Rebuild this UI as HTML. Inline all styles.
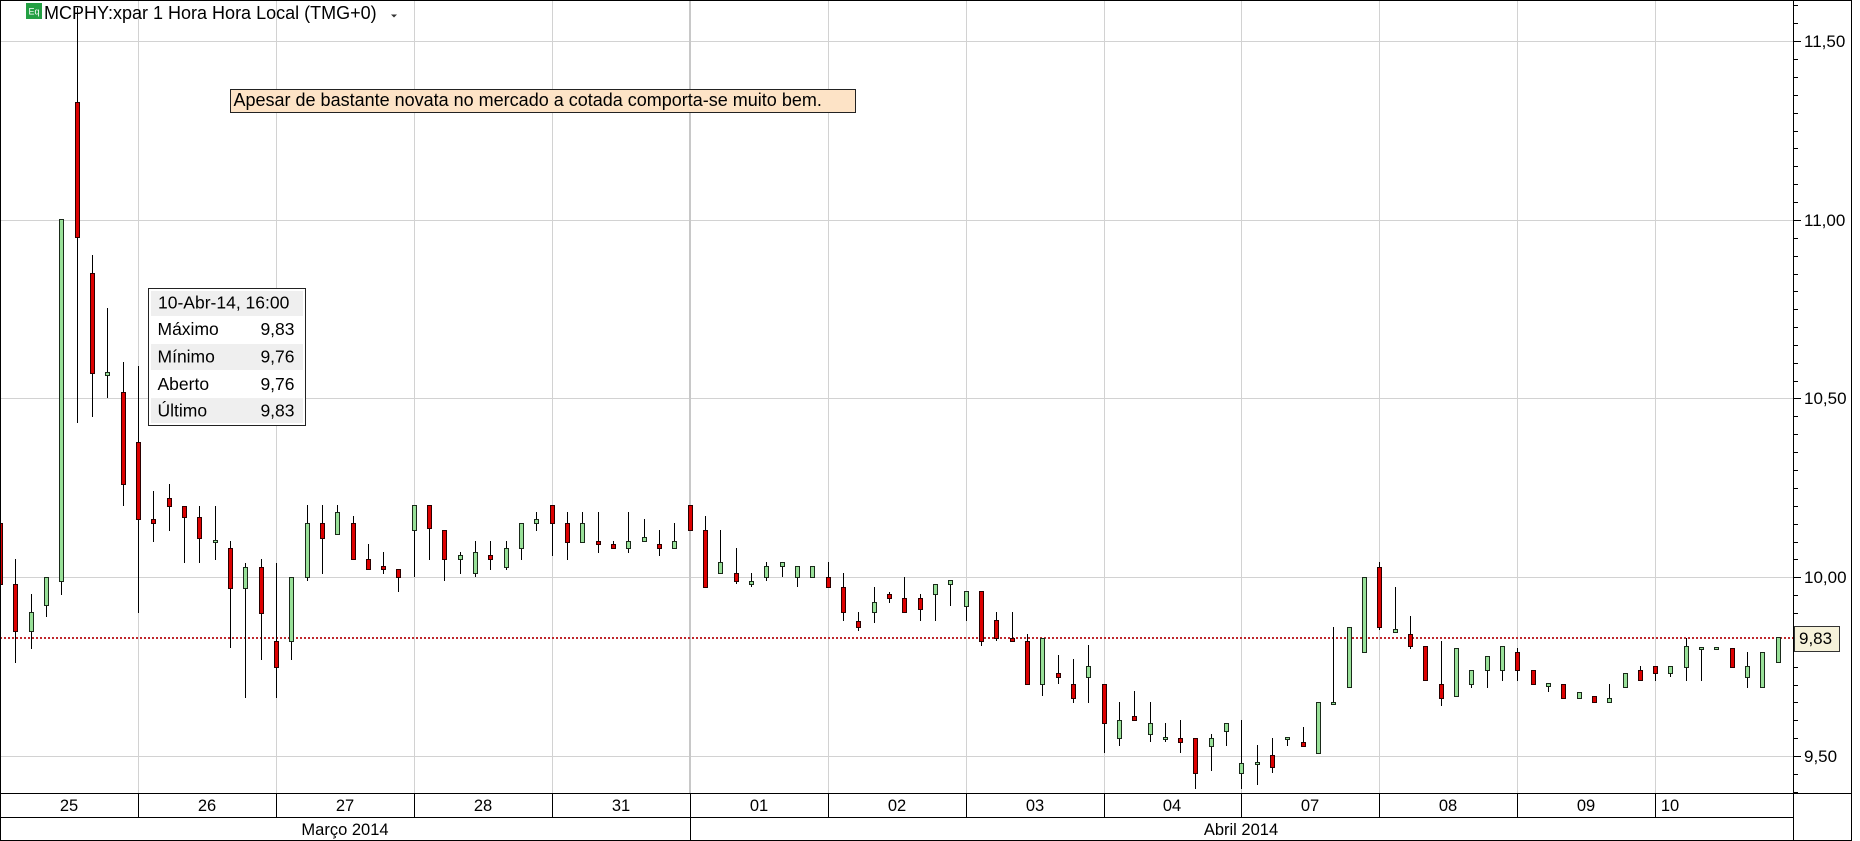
<!DOCTYPE html>
<html><head><meta charset="utf-8"><style>
html,body{margin:0;padding:0;background:#fff;}
svg{display:block;}
text{font-family:"Liberation Sans",Arial,sans-serif;fill:#000;}
</style></head><body>
<svg width="1860" height="841" viewBox="0 0 1860 841" xmlns="http://www.w3.org/2000/svg">
<rect x="0" y="0" width="1860" height="841" fill="#fff"/>
<g stroke="#d2d2d2" stroke-width="1" fill="none">
<path d="M0 41.5H1793M0 220.5H1793M0 398.5H1793M0 577.5H1793M0 756.5H1793"/>
<path d="M138.5 0V793M276.5 0V793M414.5 0V793M552.5 0V793M828.5 0V793M966.5 0V793M1104.5 0V793M1241.5 0V793M1379.5 0V793M1517.5 0V793M1655.5 0V793"/>
</g>
<path d="M690 0V793" stroke="#c8c8c8" stroke-width="2"/>
<path d="M0 638H1793" stroke="#c0282d" stroke-width="2" stroke-dasharray="2,2"/>
<path stroke="#000" stroke-width="1" fill="none" d="M0.5 505V590M15.5 559V663M31.5 594V649M46.5 577V617M61.5 219V595M77.5 8V423M92.5 255V417M107.5 308V398M123.5 362V506M138.5 366V613M153.5 491V542M169.5 484V531M184.5 506V563M199.5 506V563M215.5 506V560M230.5 541V648M245.5 563V698M261.5 559V660M276.5 563V698M291.5 577V660M307.5 505V581M322.5 505V574M337.5 505V534M353.5 516V559M368.5 544V569M383.5 552V574M398.5 569V592M414.5 505V577M429.5 505V560M444.5 530V581M460.5 552V574M475.5 541V577M490.5 541V570M506.5 541V570M521.5 523V560M536.5 512V531M552.5 505V556M567.5 512V560M582.5 512V542M598.5 512V553M613.5 541V548M628.5 512V553M644.5 519V541M659.5 530V556M674.5 523V548M690.5 505V530M705.5 516V587M720.5 530V573M736.5 548V584M751.5 573V587M766.5 562V581M782.5 562V577M797.5 566V587M812.5 566V577M828.5 562V587M843.5 573V621M858.5 612V631M874.5 587V623M889.5 592V603M904.5 577V612M920.5 594V621M935.5 584V621M950.5 580V606M966.5 591V621M981.5 591V646M996.5 612V641M1012.5 612V641M1027.5 634V684M1042.5 638V696M1058.5 655V684M1073.5 659V703M1088.5 645V703M1104.5 684V753M1119.5 702V746M1134.5 691V720M1150.5 702V742M1165.5 723V742M1180.5 720V753M1195.5 738V789M1211.5 734V771M1226.5 723V746M1241.5 720V789M1257.5 745V785M1272.5 738V773M1287.5 737V746M1303.5 727V746M1318.5 702V753M1333.5 627V704M1349.5 627V687M1364.5 577V652M1379.5 562V630M1395.5 587V632M1410.5 616V649M1425.5 646V680M1441.5 641V706M1456.5 648V696M1471.5 670V688M1487.5 656V688M1502.5 646V681M1517.5 648V681M1533.5 670V684M1548.5 683V692M1563.5 684V698M1579.5 692V698M1594.5 696V702M1609.5 684V702M1625.5 673V687M1640.5 666V680M1655.5 666V681M1670.5 666V677M1686.5 638V681M1701.5 647V681M1716.5 647V649M1732.5 648V667M1747.5 652V688M1762.5 652V687M1778.5 637V662"/>
<path fill="#dd0000" stroke="#2a0000" stroke-width="1" d="M-1.5 523.5h4v61h-4zM13.5 584.5h4v47h-4zM75.5 102.5h4v135h-4zM90.5 273.5h4v100h-4zM121.5 392.5h4v92h-4zM136.5 442.5h4v77h-4zM151.5 519.5h4v4h-4zM167.5 498.5h4v8h-4zM182.5 506.5h4v11h-4zM197.5 517.5h4v21h-4zM228.5 548.5h4v40h-4zM259.5 567.5h4v46h-4zM274.5 641.5h4v26h-4zM320.5 523.5h4v15h-4zM351.5 523.5h4v36h-4zM366.5 559.5h4v10h-4zM381.5 566.5h4v3h-4zM396.5 569.5h4v8h-4zM427.5 505.5h4v23h-4zM442.5 530.5h4v29h-4zM488.5 555.5h4v4h-4zM550.5 505.5h4v18h-4zM565.5 523.5h4v19h-4zM596.5 541.5h4v3h-4zM611.5 544.5h4v4h-4zM657.5 544.5h4v4h-4zM688.5 505.5h4v25h-4zM703.5 530.5h4v57h-4zM734.5 573.5h4v8h-4zM826.5 577.5h4v10h-4zM841.5 587.5h4v25h-4zM856.5 621.5h4v6h-4zM887.5 594.5h4v4h-4zM902.5 598.5h4v14h-4zM918.5 598.5h4v11h-4zM979.5 591.5h4v50h-4zM994.5 620.5h4v18h-4zM1010.5 638.5h4v3h-4zM1025.5 641.5h4v43h-4zM1056.5 673.5h4v4h-4zM1071.5 684.5h4v14h-4zM1102.5 684.5h4v39h-4zM1132.5 716.5h4v4h-4zM1178.5 738.5h4v4h-4zM1193.5 738.5h4v35h-4zM1270.5 755.5h4v12h-4zM1301.5 742.5h4v4h-4zM1377.5 567.5h4v60h-4zM1408.5 634.5h4v12h-4zM1423.5 646.5h4v34h-4zM1439.5 684.5h4v14h-4zM1515.5 652.5h4v18h-4zM1531.5 670.5h4v14h-4zM1561.5 684.5h4v14h-4zM1592.5 696.5h4v6h-4zM1638.5 670.5h4v10h-4zM1653.5 666.5h4v7h-4zM1730.5 648.5h4v19h-4z"/>
<path fill="#98e098" stroke="#1a2a1a" stroke-width="1" d="M29.5 612.5h4v19h-4zM44.5 577.5h4v28h-4zM59.5 219.5h4v362h-4zM105.5 372.5h4v3h-4zM213.5 540.5h4v2h-4zM243.5 567.5h4v21h-4zM289.5 577.5h4v64h-4zM305.5 523.5h4v54h-4zM335.5 512.5h4v22h-4zM412.5 505.5h4v25h-4zM458.5 555.5h4v4h-4zM473.5 552.5h4v21h-4zM504.5 548.5h4v19h-4zM519.5 523.5h4v25h-4zM534.5 519.5h4v4h-4zM580.5 523.5h4v19h-4zM626.5 541.5h4v7h-4zM642.5 537.5h4v4h-4zM672.5 541.5h4v7h-4zM718.5 562.5h4v11h-4zM749.5 581.5h4v3h-4zM764.5 566.5h4v11h-4zM780.5 562.5h4v4h-4zM795.5 566.5h4v11h-4zM810.5 566.5h4v11h-4zM872.5 602.5h4v10h-4zM933.5 584.5h4v10h-4zM948.5 580.5h4v4h-4zM964.5 591.5h4v15h-4zM1040.5 638.5h4v46h-4zM1086.5 666.5h4v11h-4zM1117.5 720.5h4v18h-4zM1148.5 723.5h4v11h-4zM1163.5 737.5h4v2h-4zM1209.5 738.5h4v8h-4zM1224.5 723.5h4v8h-4zM1239.5 763.5h4v10h-4zM1255.5 762.5h4v2h-4zM1285.5 737.5h4v2h-4zM1316.5 702.5h4v51h-4zM1331.5 702.5h4v2h-4zM1347.5 627.5h4v60h-4zM1362.5 577.5h4v75h-4zM1393.5 629.5h4v3h-4zM1454.5 648.5h4v48h-4zM1469.5 670.5h4v14h-4zM1485.5 656.5h4v14h-4zM1500.5 646.5h4v24h-4zM1546.5 683.5h4v3h-4zM1577.5 692.5h4v6h-4zM1607.5 698.5h4v4h-4zM1623.5 673.5h4v14h-4zM1668.5 666.5h4v7h-4zM1684.5 646.5h4v21h-4zM1699.5 647.5h4v2h-4zM1714.5 647.5h4v2h-4zM1745.5 666.5h4v11h-4zM1760.5 652.5h4v35h-4zM1776.5 637.5h4v25h-4z"/>
<g stroke="#000" stroke-width="1" fill="none">
<path d="M0.5 0V841M0 0.5H1852M1851.5 0V841M0 840.5H1852"/>
<path d="M1793.5 0V841"/>
<path d="M0 793.5H1852M0 817.5H1793"/>
<path d="M138.5 793V817M276.5 793V817M414.5 793V817M552.5 793V817M828.5 793V817M966.5 793V817M1104.5 793V817M1241.5 793V817M1379.5 793V817M1517.5 793V817M1655.5 793V817M690.5 793V841"/>
<path d="M1794 5.5h4M1794 23.5h4M1794 41.5h7M1794 59.5h4M1794 77.5h4M1794 95.5h4M1794 113.5h4M1794 131.5h4M1794 148.5h4M1794 166.5h4M1794 184.5h4M1794 202.5h4M1794 220.5h7M1794 238.5h4M1794 256.5h4M1794 274.5h4M1794 291.5h4M1794 309.5h4M1794 327.5h4M1794 345.5h4M1794 363.5h4M1794 381.5h4M1794 398.5h7M1794 416.5h4M1794 434.5h4M1794 452.5h4M1794 470.5h4M1794 488.5h4M1794 506.5h4M1794 524.5h4M1794 542.5h4M1794 559.5h4M1794 577.5h7M1794 595.5h4M1794 613.5h4M1794 631.5h4M1794 649.5h4M1794 667.5h4M1794 685.5h4M1794 702.5h4M1794 720.5h4M1794 738.5h4M1794 756.5h7M1794 774.5h4M1794 792.5h4"/>
</g>
<g font-size="17">
<text x="1804" y="47">11,50</text>
<text x="1804" y="226">11,00</text>
<text x="1804" y="404">10,50</text>
<text x="1804" y="583">10,00</text>
<text x="1804" y="762">9,50</text>
</g>
<rect x="1794.5" y="626.5" width="45" height="25" fill="#f6f2da" stroke="#333"/>
<text x="1799" y="644" font-size="17">9,83</text>
<g font-size="16.5" text-anchor="middle">
<text x="69" y="811">25</text>
<text x="207" y="811">26</text>
<text x="345" y="811">27</text>
<text x="483" y="811">28</text>
<text x="621" y="811">31</text>
<text x="759" y="811">01</text>
<text x="897" y="811">02</text>
<text x="1035" y="811">03</text>
<text x="1172" y="811">04</text>
<text x="1310" y="811">07</text>
<text x="1448" y="811">08</text>
<text x="1586" y="811">09</text>
<text x="1670" y="811">10</text>
<text x="345" y="835">Março 2014</text>
<text x="1241" y="835">Abril 2014</text>
</g>
<rect x="26" y="3" width="16" height="16" fill="#23a043"/>
<text x="28.5" y="14.5" font-size="9" style="fill:#fff">Eq</text>
<text x="44" y="19" font-size="18">MCPHY:xpar 1 Hora Hora Local (TMG+0)</text>
<path d="M391 14.5h6l-3 3z" fill="#333"/>
<rect x="230.5" y="89.5" width="625" height="23" fill="#fde3c6" stroke="#222"/>
<text x="233.5" y="106" font-size="18">Apesar de bastante novata no mercado a cotada comporta-se muito bem.</text>
<rect x="148.5" y="288.5" width="157" height="137" fill="#fff" stroke="#222"/>
<rect x="151" y="291" width="152" height="25" fill="#efefef"/>
<rect x="151" y="344" width="152" height="26" fill="#efefef"/>
<rect x="151" y="398" width="152" height="25" fill="#efefef"/>
<g font-size="17.5">
<text x="158" y="308.5">10-Abr-14, 16:00</text>
<text x="157.5" y="335">Máximo</text>
<text x="157.5" y="362.5">Mínimo</text>
<text x="157.5" y="390">Aberto</text>
<text x="157.5" y="416.5">Último</text>
<g text-anchor="end">
<text x="294.5" y="335">9,83</text>
<text x="294.5" y="362.5">9,76</text>
<text x="294.5" y="390">9,76</text>
<text x="294.5" y="416.5">9,83</text>
</g>
</g>
</svg>
</body></html>
